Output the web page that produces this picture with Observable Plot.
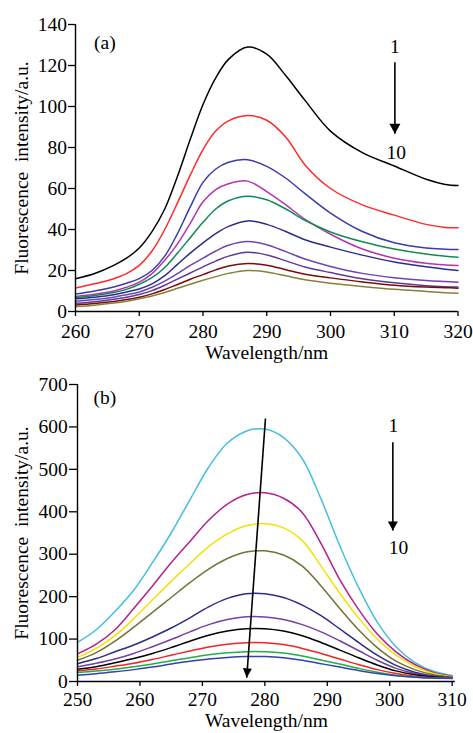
<!DOCTYPE html>
<html><head><meta charset="utf-8">
<script src="https://cdn.jsdelivr.net/npm/d3@7"></script>
<script src="https://cdn.jsdelivr.net/npm/@observablehq/plot@0.6"></script>
<style>body{margin:0;background:#fff} svg{display:block}</style>
</head><body><div id="chart"></div>
<script>
// ---------- Panel (a) data ----------
const xA = [260,263,266,268,270,272,274,276,278,280,282,284,287,290,293,296,300,305,310,315,318,320];
const a1 = [16,18.5,22.5,26,31,39,50,66,84,101,114,123,129,125.5,115,103,88,77.5,71,64.5,62,61.5];
const a2 = [11.5,13.5,16,18.5,22.5,29.5,40,53,66.5,79,88,93,95.6,93.3,85,71.5,60,52,47,42.5,41,40.8];
const a3 = [8.5,10,12,13.8,16,20,27,38,51,63,69.5,72.8,74,70.8,65,57.5,48,39,33.5,31,30.4,30.2];
const a4 = [7.3,8.4,10,11.8,14.3,18.5,25,33,43,53.5,59.5,62.3,63.6,58.5,52,45,37.7,30.5,26,23.5,22.7,22.4];
const a5 = [6.8,7.8,9.3,10.8,13.3,16.5,21.5,28.5,36,43.5,50,54,56.2,54.5,50,44.5,38.8,34,30.5,28,27,26.5];
const a6 = [6.2,7,8.2,9.5,11,13.5,17.5,23,28.5,33.5,38,41.5,44.2,42.5,39,35,31.4,27.5,24.2,21.8,20.6,20];
const a7 = [5,5.8,7,8.2,9.5,11.8,14.8,18.5,22.5,26,29.5,32.3,34.1,32.6,29.2,25.6,22,18.6,16.5,15.1,14.6,14.3];
const a8 = [4,4.8,6,7,8.3,10.2,12.8,15.8,18.8,21.8,24.6,27,28.9,27.6,24.7,21.7,19,16,14,12.6,12.1,11.9];
const a9 = [3.2,3.9,4.9,5.8,7,8.6,10.7,13.2,15.7,18,20.3,22.2,23.4,22.6,20.4,18.2,16.4,14.4,12.8,11.9,11.6,11.4];
const a10 = [2.4,3.1,4.1,5,6.2,7.6,9.3,11.3,13.3,15.2,17,18.6,20,19.3,17.4,15.5,13.8,12.2,10.8,9.8,9.2,8.9];
const colorsA = ["#000000","#ff2a2a","#3b3bab","#b534b0","#0f8a52","#2c2c8c","#6e44b2","#5c3a98","#7d0a0a","#858238"];
const xTicksA = [260,270,280,290,300,310,320];
const yTicksA = [0,20,40,60,80,100,120,140];

// ---------- Panel (b) data ----------
const xB = [250,253,256,259,262,265,268,271,274,277,280,283,286,289,292,295,298,301,304,307,310];
const b1 = [92,122,165,215,280,350,428,505,562,590,595,575,525,430,320,222,140,82,45,24,14];
const b2 = [65,88,122,172,225,280,330,380,418,440,445,432,398,325,240,170,112,70,40,21,12];
const b3 = [57,78,108,148,192,236,278,318,348,367,372,362,332,272,208,150,100,62,36,19,11];
const b4 = [50,68,95,128,163,198,233,265,290,305,308,298,272,225,172,122,80,48,28,16,10];
const b5 = [42,54,70,86,105,126,150,176,196,207,207,198,180,155,124,92,62,38,22,13,9.5];
const b6 = [35,43,53,66,82,99,117,134,146,152.5,152,146,134,117,96,73,50,31,19,12,9];
const b7 = [29,35,44,54,66,80,95,109,119,124.5,124.5,119,108,92,74,56,39,25,16,10.5,8.5];
const b8 = [25,29.5,36,43,52,62,72,81.5,88,91.5,91.5,87,78,66,53,40,28,19,12.5,9,8];
const b9 = [21,24.5,29,34.5,41,49,56,63,67.5,70.3,70.3,67,60,50.5,41,31,22,15,10.5,8,7.5];
const b10 = [15,18.5,23,28,34,41,47.5,53,56.8,58.8,58.7,56,50,42,34,26,19,13.5,10,8,7];
const colorsB = ["#45bfdf","#b4208e","#f2e200","#737334","#2c2c86","#7442a6","#000000","#f22424","#22ad46","#3342ac"];
const xTicksB = [250,260,270,280,290,300,310];
const yTicksB = [0,100,200,300,400,500,600,700];

// annotations
const panelLabels = ["(a)", "(b)"];
const yTitle = "Fluorescence\u00a0 intensity/a.u.";
const xTitle = "Wavelength/nm";
const legendA = [{x: 310.1, y: 129, t: "1"}, {x: 310.3, y: 77.5, t: "10"}];
const legendArrowA = {x1: 310.1, y1: 121.6, x2: 310.1, y2: 86.7};
const legendB = [{x: 300.6, y: 603, t: "1"}, {x: 301.4, y: 316, t: "10"}];
const legendArrowB = {x1: 300.5, y1: 564, x2: 300.5, y2: 356};
const shiftArrowB = {x1: 280.1, y1: 620, x2: 277.1, y2: 8.7};

const font = "'Liberation Serif', 'Times New Roman', Times, serif";
const fs = 19.5;

function tidy(xs, series) {
  return series.map((ys, i) => xs.map((x, j) => ({x, y: ys[j], s: i})));
}

// downward filled arrow head (tip at origin), tilted by angle (deg, clockwise from straight down)
function headSymbol(width, length, angleDeg) {
  const a = angleDeg * Math.PI / 180;
  const ux = -Math.sin(a), uy = Math.cos(a);
  const px = -uy, py = ux;
  return {
    draw(ctx) {
      ctx.moveTo(0, 0);
      ctx.lineTo(-ux * length + px * width / 2, -uy * length + py * width / 2);
      ctx.lineTo(-ux * length - px * width / 2, -uy * length - py * width / 2);
      ctx.closePath();
    }
  };
}

function arrow(a, w, l, ang) {
  return [
    Plot.link([a], {x1: "x1", y1: "y1", x2: "x2", y2: "y2", stroke: "black", strokeWidth: 1.6}),
    Plot.dot([a], {x: "x2", y: "y2", r: 4, symbol: headSymbol(w, l, ang), fill: "black", stroke: "none"})
  ];
}

function panel(o) {
  const rows = tidy(o.xs, o.series);
  return Plot.plot({
    width: 473, height: o.height,
    marginLeft: o.ml, marginRight: o.mr, marginTop: o.mt, marginBottom: o.mb,
    style: {fontFamily: font, fontSize: fs + "px", background: "white", color: "black", overflow: "visible"},
    x: {domain: o.xDomain, ticks: o.xTicks, tickSize: 5, tickPadding: o.xPad, label: null, tickFormat: d => String(d)},
    y: {domain: o.yDomain, ticks: o.yTicks, tickSize: o.yTick, tickPadding: o.yPad, label: null, tickFormat: d => String(d)},
    marks: [
      ...rows.map((r, i) => Plot.line(r, {x: "x", y: "y", stroke: o.colors[i], strokeWidth: 1.5, curve: "catmull-rom"})),
      Plot.ruleX([o.xDomain[0]], {stroke: "black", strokeWidth: 1.4}),
      Plot.ruleY([0], {stroke: "black", strokeWidth: 1.4}),
      Plot.axisX({ticks: o.xTicks, tickSize: 5, tickPadding: o.xPad, strokeWidth: 1.3, label: null, tickFormat: d => String(d)}),
      Plot.axisY({ticks: o.yTicks, tickSize: o.yTick, tickPadding: o.yPad, strokeWidth: 1.3, label: null, tickFormat: d => String(d)}),
      Plot.text([o.tag], {x: o.tagX, y: o.tagY, text: d => d, textAnchor: "middle", lineAnchor: "middle"}),
      Plot.text(o.legend, {x: "x", y: "y", text: "t", textAnchor: "middle", lineAnchor: "middle"}),
      ...o.arrows,
      Plot.text([xTitle], {frameAnchor: "bottom", dy: o.xTitleDy, text: d => d, textAnchor: "middle", lineAnchor: "bottom"}),
      Plot.text([yTitle], {frameAnchor: "left", dx: o.yTitleDx, rotate: -90, text: d => d, textAnchor: "middle", lineAnchor: "bottom"})
    ]
  });
}

const chartA = panel({
  height: 366, ml: 75, mr: 15.5, mt: 24, mb: 55,
  xs: xA, series: [a1,a2,a3,a4,a5,a6,a7,a8,a9,a10], colors: colorsA,
  xDomain: [260, 320], yDomain: [0, 140], xTicks: xTicksA, yTicks: yTicksA,
  xPad: 7.5, yTick: 7, yPad: 1.5,
  tag: panelLabels[0], tagX: 264.6, tagY: 131,
  legend: legendA,
  arrows: arrow(legendArrowA, 11, 10, 0),
  xTitleDy: 47, yTitleDx: -48
});

const chartB = panel({
  height: 367, ml: 77, mr: 18.2, mt: 18, mb: 52,
  xs: xB, series: [b1,b2,b3,b4,b5,b6,b7,b8,b9,b10], colors: colorsB,
  xDomain: [250, 310.5], yDomain: [0, 700], xTicks: xTicksB, yTicks: yTicksB,
  xPad: 6, yTick: 8, yPad: 1.7,
  tag: panelLabels[1], tagX: 254.4, tagY: 667.7,
  legend: legendB,
  arrows: [...arrow(legendArrowB, 10, 9, 0), ...arrow(shiftArrowB, 9, 9.5, 4.1)],
  xTitleDy: 45.7, yTitleDx: -50
});

document.getElementById("chart").append(chartA, chartB);
</script>
</body></html>
